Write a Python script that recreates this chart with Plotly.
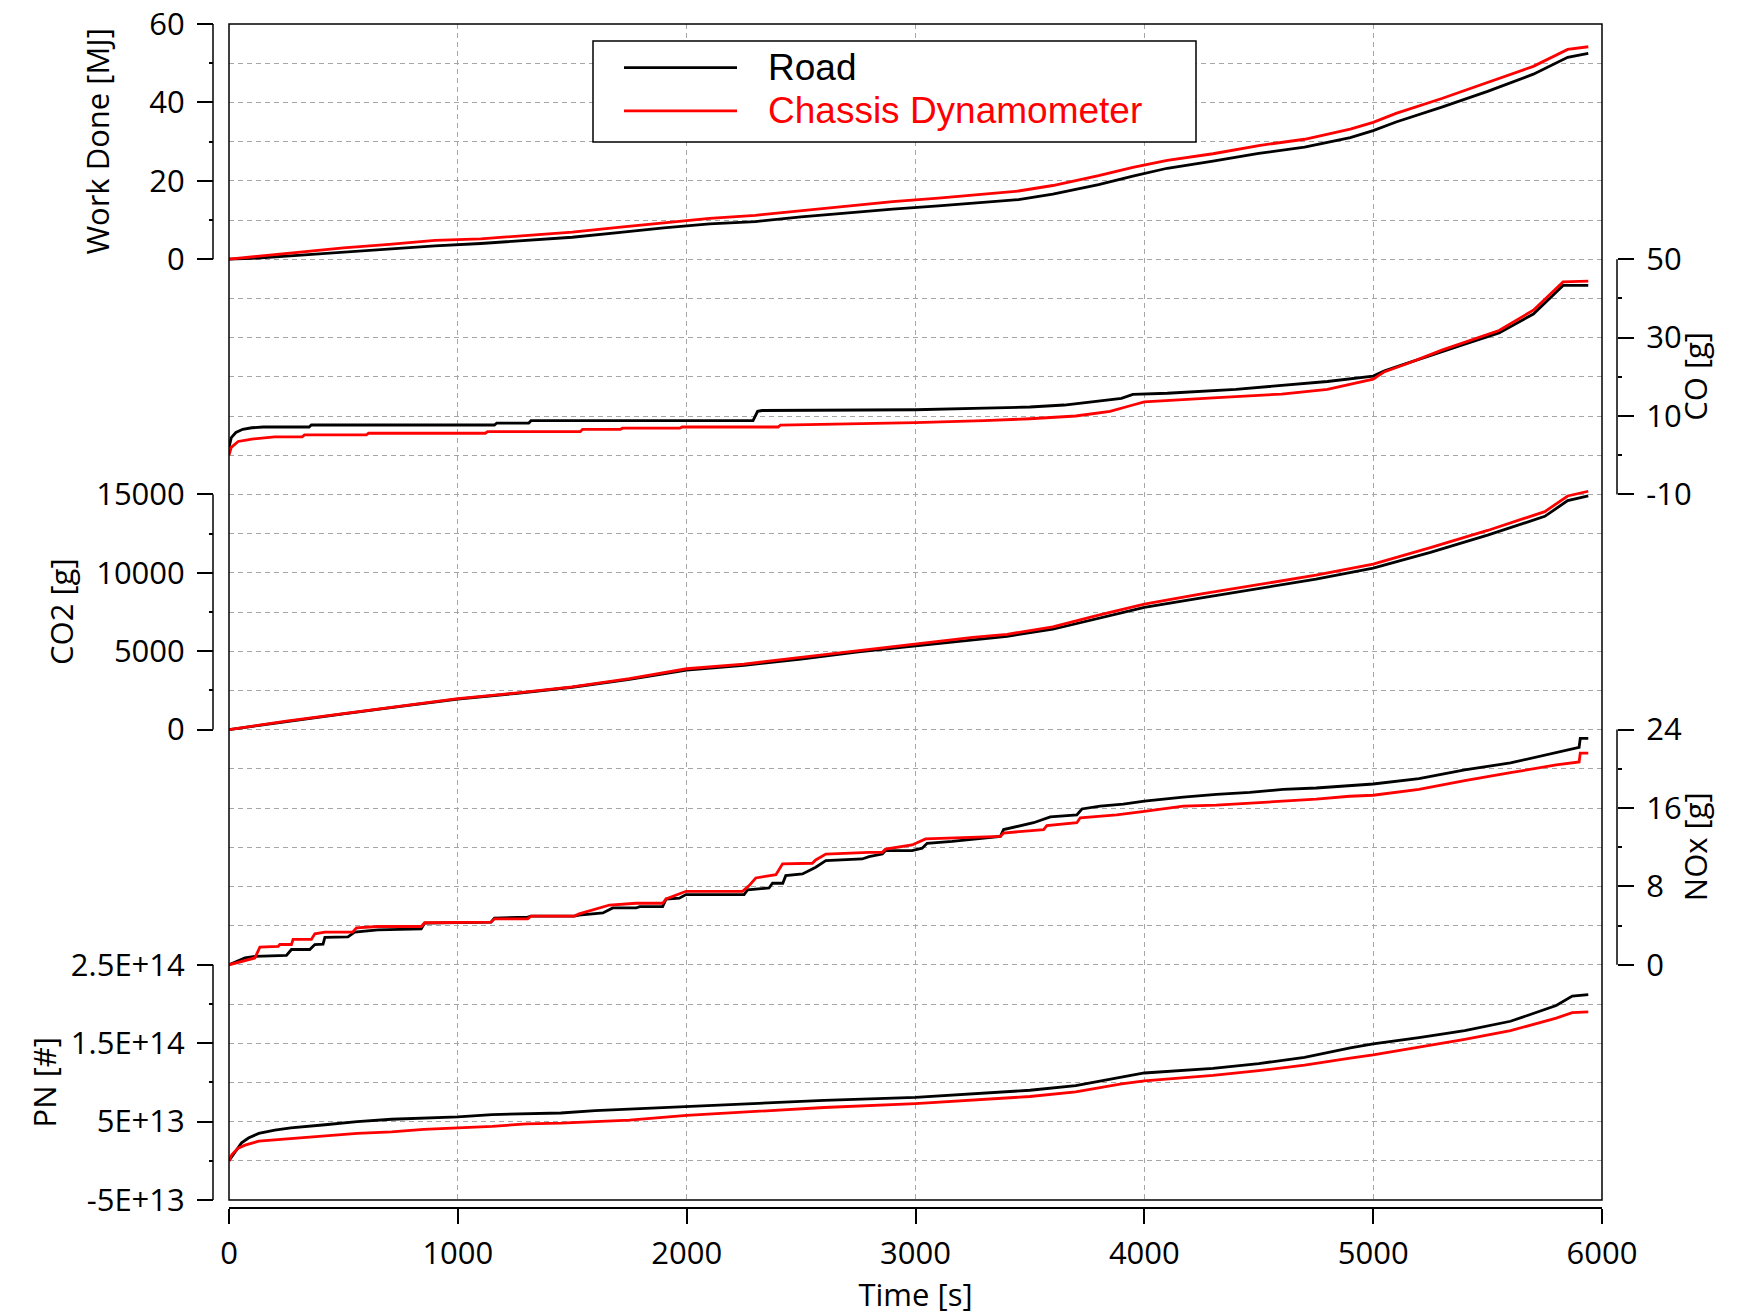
import plotly.graph_objects as go

# ---------------- data ----------------
x_ticks = [0, 1000, 2000, 3000, 4000, 5000, 6000]

# Work done [MJ]
wd_t = [0, 100, 300, 500, 700, 900, 1100, 1300, 1500, 1700, 1900, 2100, 2300, 2500, 2700, 2900,
        3100, 3300, 3450, 3600, 3800, 3950, 4100, 4300, 4500, 4700, 4900, 5000, 5100, 5300, 5500,
        5700, 5850, 5940]
wd_road = [0, 0.2, 1.0, 1.8, 2.5, 3.4, 4.0, 4.8, 5.6, 6.8, 8.0, 9.0, 9.6, 10.8, 11.8, 12.8,
           13.6, 14.5, 15.2, 16.6, 19.0, 21.2, 23.2, 25.0, 27.0, 28.6, 31.0, 32.8, 35.0, 38.8, 42.8,
           47.2, 51.5, 52.5]
wd_chassis = [0, 0.6, 1.8, 2.9, 3.8, 4.8, 5.2, 6.0, 6.9, 8.1, 9.3, 10.4, 11.2, 12.4, 13.6, 14.7,
              15.6, 16.7, 17.4, 18.8, 21.3, 23.4, 25.2, 26.9, 29.0, 30.6, 33.2, 34.9, 37.2, 41.0, 45.0,
              49.2, 53.5, 54.2]

# CO [g]
co_road_t = [0, 10, 30, 60, 100, 150, 350, 360, 1160, 1170, 1310, 1320, 2290, 2310, 2330, 2800,
             3000, 3300, 3500, 3650, 3800, 3900, 3950, 4100, 4400, 4600, 4800, 5000, 5050, 5150,
             5300, 5400, 5550, 5700, 5830, 5940]
co_road = [2.0, 4.5, 5.8, 6.6, 7.0, 7.2, 7.2, 7.7, 7.7, 8.2, 8.2, 8.8, 8.8, 11.2, 11.4, 11.5,
           11.6, 12.0, 12.3, 12.8, 13.8, 14.5, 15.5, 15.8, 16.8, 17.8, 18.8, 20.2, 21.5, 23.5,
           26.5, 28.3, 31.2, 36.0, 43.3, 43.3]
co_chassis_t = [0, 10, 40, 100, 200, 320, 330, 600, 610, 1120, 1130, 1535, 1545, 1710, 1720, 1970,
                1980, 2400, 2410, 3000, 3300, 3500, 3700, 3850, 3950, 4000, 4300, 4600, 4800, 5000,
                5050, 5150, 5300, 5400, 5550, 5700, 5830, 5940]
co_chassis = [0.0, 2.0, 3.5, 4.1, 4.7, 4.7, 5.2, 5.2, 5.6, 5.6, 6.0, 6.0, 6.6, 6.6, 6.9, 6.9,
              7.2, 7.2, 7.7, 8.3, 8.8, 9.3, 10.0, 11.2, 12.8, 13.6, 14.6, 15.6, 16.8, 19.4,
              21.3, 23.4, 26.8, 28.8, 31.8, 37.0, 44.2, 44.4]

# CO2 [g]
co2_t = [0, 250, 500, 750, 1000, 1250, 1500, 1750, 2000, 2250, 2500, 2750, 3000, 3250, 3400, 3600,
         3800, 4000, 4250, 4500, 4750, 5000, 5250, 5500, 5750, 5850, 5940]
co2_road = [0, 520, 1000, 1480, 1950, 2300, 2700, 3200, 3800, 4100, 4500, 4950, 5350, 5750, 5950,
            6400, 7100, 7800, 8400, 9000, 9600, 10300, 11300, 12400, 13600, 14600, 14900]
co2_chassis = [0, 540, 1020, 1500, 1980, 2330, 2730, 3250, 3880, 4180, 4600, 5050, 5450, 5880, 6080,
               6550, 7300, 8000, 8650, 9250, 9850, 10550, 11600, 12700, 13900, 14900, 15200]

# NOx [g]
nox_road_t = [0, 70, 113, 251, 273, 353, 375, 411, 419, 520, 549, 651, 840, 855, 1145, 1160, 1305,
              1320, 1509, 1530, 1634, 1677, 1779, 1795, 1895, 1910, 1968, 1997, 2251, 2266, 2360,
              2375, 2420, 2433, 2506, 2564, 2608, 2767, 2797, 2855, 2869, 2985, 3029, 3051, 3160,
              3371, 3385, 3443, 3516, 3589, 3705, 3727, 3807, 3908, 4000, 4170, 4315, 4461, 4606,
              4751, 4897, 5000, 5200, 5400, 5600, 5800, 5900, 5905, 5940]
nox_road = [0, 0.7, 0.85, 0.95, 1.56, 1.56, 2.07, 2.1, 2.8, 2.85, 3.33, 3.57, 3.67, 4.25, 4.35, 4.76,
            4.86, 4.97, 4.97, 5.07, 5.29, 5.8, 5.8, 5.94, 5.94, 6.7, 6.8, 7.16, 7.16, 7.64, 7.84,
            8.32, 8.32, 9.1, 9.27, 9.95, 10.63, 10.8, 11.04, 11.3, 11.65, 11.65, 11.9, 12.4, 12.6,
            13.1, 13.8, 14.1, 14.5, 15.1, 15.3, 15.9, 16.2, 16.4, 16.7, 17.1, 17.4, 17.6, 17.9,
            18.04, 18.3, 18.45, 19.0, 19.9, 20.6, 21.7, 22.2, 23.1, 23.1]
nox_chassis_t = [0, 113, 135, 215, 222, 273, 280, 360, 375, 419, 540, 557, 651, 840, 855, 1145,
                 1160, 1305, 1320, 1509, 1530, 1626, 1663, 1779, 1895, 1910, 1968, 1997, 2244,
                 2273, 2302, 2390, 2419, 2549, 2564, 2608, 2797, 2855, 2869, 2985, 3044, 3233,
                 3371, 3385, 3560, 3574, 3705, 3720, 3879, 4000, 4170, 4315, 4461, 4606, 4751,
                 4897, 5000, 5200, 5400, 5600, 5800, 5900, 5905, 5940]
nox_chassis = [0, 0.7, 1.8, 1.87, 2.07, 2.07, 2.59, 2.59, 3.16, 3.33, 3.33, 3.78, 3.91, 3.91, 4.29,
               4.35, 4.69, 4.69, 4.97, 4.97, 5.19, 5.8, 6.1, 6.28, 6.28, 6.72, 7.23, 7.5, 7.5,
               8.08, 8.86, 9.2, 10.3, 10.36, 10.7, 11.3, 11.48, 11.48, 11.8, 12.23, 12.84, 12.95,
               13.1, 13.45, 13.8, 14.2, 14.5, 15.0, 15.3, 15.66, 16.2, 16.3, 16.5, 16.7, 16.9,
               17.2, 17.3, 17.9, 18.8, 19.6, 20.4, 20.7, 21.6, 21.6]

# PN [#]
pn_road_t = [0, 40, 55, 85, 130, 200, 270, 420, 560, 710, 850, 1000, 1150, 1300, 1450, 1600, 1750,
             2000, 2300, 2600, 3000, 3300, 3500, 3700, 3900, 4000, 4300, 4500, 4700, 4900, 5000,
             5200, 5400, 5600, 5800, 5870, 5940]
pn_road = [0, 1.6e13, 2.3e13, 2.9e13, 3.5e13, 3.9e13, 4.2e13, 4.6e13, 5.0e13, 5.3e13, 5.45e13,
           5.6e13, 5.9e13, 6.0e13, 6.1e13, 6.4e13, 6.6e13, 6.9e13, 7.3e13, 7.7e13, 8.1e13, 8.6e13,
           9.0e13, 9.6e13, 1.07e14, 1.12e14, 1.18e14, 1.24e14, 1.32e14, 1.44e14, 1.49e14,
           1.57e14, 1.66e14, 1.78e14, 1.98e14, 2.1e14, 2.12e14]
pn_chassis_t = [0, 12, 40, 70, 130, 270, 420, 560, 710, 850, 1000, 1150, 1300, 1450, 1600, 1750,
                2000, 2300, 2600, 3000, 3300, 3500, 3700, 3900, 4000, 4300, 4500, 4700, 4900, 5000,
                5200, 5400, 5600, 5800, 5870, 5940]
pn_chassis = [0, 7.7e12, 1.6e13, 2.0e13, 2.5e13, 2.8e13, 3.2e13, 3.5e13, 3.7e13, 4.0e13, 4.2e13,
              4.4e13, 4.7e13, 4.8e13, 5.0e13, 5.2e13, 5.8e13, 6.3e13, 6.8e13, 7.3e13, 7.8e13,
              8.2e13, 8.8e13, 9.8e13, 1.02e14, 1.09e14, 1.15e14, 1.22e14, 1.31e14, 1.35e14,
              1.45e14, 1.55e14, 1.66e14, 1.82e14, 1.89e14, 1.9e14]

series_names = ["Road", "Chassis Dynamometer"]
series_colors = ["#000000", "#ff0000"]

# ---------------- axis definitions ----------------
# panel: (title, axis id, side, panel range, major ticks, major labels, minor ticks, grid units below panel)
panels = [
    ("Work Done [MJ]", "y2", "left", [0, 60], [0, 20, 40, 60], ["0", "20", "40", "60"], [10, 30, 50], 24),
    ("CO [g]", "y3", "right", [-10, 50], [-10, 10, 30, 50], ["-10", "10", "30", "50"], [0, 20, 40], 18),
    ("CO2 [g]", "y4", "left", [0, 15000], [0, 5000, 10000, 15000], ["0", "5000", "10000", "15000"],
     [2500, 7500, 12500], 12),
    ("NOx [g]", "y5", "right", [0, 24], [0, 8, 16, 24], ["0", "8", "16", "24"], [4, 12, 20], 6),
    ("PN [#]", "y6", "left", [-5e13, 2.5e14], [-5e13, 5e13, 1.5e14, 2.5e14],
     ["-5E+13", "5E+13", "1.5E+14", "2.5E+14"], [0, 1e14, 2e14], 0),
]
total_units = 30
panel_units = 6

W, H = 1737, 1315
ML, MR, MT, MB = 200, 97, 24, 107
pw, ph = W - ML - MR, H - MT - MB


def px_to_paper_x(px):
    return (px - ML) / pw


def px_to_paper_y(py):
    return (H - MB - py) / ph


x_domain = [px_to_paper_x(229), px_to_paper_x(1602)]
y_domain = [px_to_paper_y(1200), 1.0]
left_pos = px_to_paper_x(213)
right_pos = px_to_paper_x(1617)
title_x = {"Work Done [MJ]": 97, "CO [g]": 1695, "CO2 [g]": 61, "NOx [g]": 1695, "PN [#]": 44}

tick_font = dict(family="Open Sans", size=31, color="black")
grid_color = "#a6a6a6"
grid_dash = "5px,4px"
line_w = 2.8

fig = go.Figure()

# background grid carrier (draws nothing itself; holds the shared grid axis)
fig.add_trace(go.Scatter(x=[0, 6000], y=[0, total_units], mode="none", showlegend=False,
                         hoverinfo="skip", xaxis="x", yaxis="y"))

data_sets = [
    ("y2", (wd_t, wd_road), (wd_t, wd_chassis)),
    ("y3", (co_road_t, co_road), (co_chassis_t, co_chassis)),
    ("y4", (co2_t, co2_road), (co2_t, co2_chassis)),
    ("y5", (nox_road_t, nox_road), (nox_chassis_t, nox_chassis)),
    ("y6", (pn_road_t, pn_road), (pn_chassis_t, pn_chassis)),
]
for yax, road, chassis in data_sets:
    for (tt, vv), name, col in zip([road, chassis], series_names, series_colors):
        fig.add_trace(go.Scatter(x=tt, y=vv, mode="lines", name=name, xaxis="x", yaxis=yax,
                                 line=dict(color=col, width=line_w), showlegend=False,
                                 hoverinfo="skip"))

layout = dict(
    template="none",
    width=W, height=H, autosize=False,
    margin=dict(l=ML, r=MR, t=MT, b=MB, autoexpand=False),
    plot_bgcolor="white", paper_bgcolor="white",
    showlegend=False,
    font=dict(family="Open Sans", size=31, color="black"),
    xaxis=dict(domain=x_domain, range=[0, 6000], anchor="free", position=0, automargin=False,
               tickmode="array", tickvals=x_ticks, ticks="outside", ticklen=15, tickwidth=1.5,
               tickcolor="black", showline=True, linecolor="black", linewidth=1.5,
               showgrid=True, gridcolor=grid_color, griddash=grid_dash, gridwidth=1,
               zeroline=False, tickfont=tick_font, ticklabelstandoff=3,
               title=dict(text="Time [s]", font=tick_font, standoff=12)),
    yaxis=dict(domain=y_domain, range=[0, total_units], tickmode="linear", tick0=0, dtick=1,
               showgrid=True, gridcolor=grid_color, griddash=grid_dash, gridwidth=1,
               showticklabels=False, ticks="", zeroline=False, showline=False, anchor="x",
               automargin=False),
)

shapes = []
annotations = []
for title, yax, side, prange, majors, labels, minors, below in panels:
    step = (prange[1] - prange[0]) / panel_units
    lo = prange[0] - below * step
    hi = prange[1] + (total_units - below - panel_units) * step
    key = "yaxis" + yax[1:]
    layout[key] = dict(
        overlaying="y", anchor="free", side=side, automargin=False,
        position=left_pos if side == "left" else right_pos,
        range=[lo, hi], tickmode="array", tickvals=majors, ticktext=labels,
        ticks="outside", ticklen=16, tickwidth=1.5, tickcolor="black",
        minor=dict(tickmode="array", tickvals=minors, ticks="outside", ticklen=4,
                   tickwidth=1.5, tickcolor="black", showgrid=False),
        showgrid=False, zeroline=False, showline=False, tickfont=tick_font,
        ticklabelstandoff=6,
    )
    xpos = left_pos if side == "left" else right_pos
    shapes.append(dict(type="line", xref="paper", yref=yax, x0=xpos, x1=xpos,
                       y0=prange[0], y1=prange[1], line=dict(color="black", width=1.5)))
    annotations.append(dict(text=title, xref="paper", yref=yax,
                            x=px_to_paper_x(title_x[title]), y=(prange[0] + prange[1]) / 2,
                            textangle=-90, showarrow=False, xanchor="center", yanchor="middle",
                            font=tick_font))

# plot frame
shapes.append(dict(type="rect", xref="paper", yref="paper",
                   x0=x_domain[0], x1=x_domain[1], y0=y_domain[0], y1=y_domain[1],
                   line=dict(color="black", width=1.5), layer="above"))

# legend box (drawn manually to match the long line samples)
shapes.append(dict(type="rect", xref="paper", yref="paper",
                   x0=px_to_paper_x(593), x1=px_to_paper_x(1196),
                   y0=px_to_paper_y(142), y1=px_to_paper_y(41),
                   line=dict(color="black", width=1.5), fillcolor="white", layer="above"))
legend_rows = [67.6, 110.8]
for name, col, ry in zip(series_names, series_colors, legend_rows):
    shapes.append(dict(type="line", xref="paper", yref="paper",
                       x0=px_to_paper_x(624), x1=px_to_paper_x(737),
                       y0=px_to_paper_y(ry), y1=px_to_paper_y(ry),
                       line=dict(color=col, width=line_w), layer="above"))
    annotations.append(dict(text=name, xref="paper", yref="paper",
                            x=px_to_paper_x(766), y=px_to_paper_y(ry),
                            xanchor="left", yanchor="middle", showarrow=False,
                            font=dict(family="Liberation Sans", size=37, color=col)))

layout["shapes"] = shapes
layout["annotations"] = annotations
fig.update_layout(**layout)

fig.write_html("out.html", post_script="document.body.style.margin='0';")
